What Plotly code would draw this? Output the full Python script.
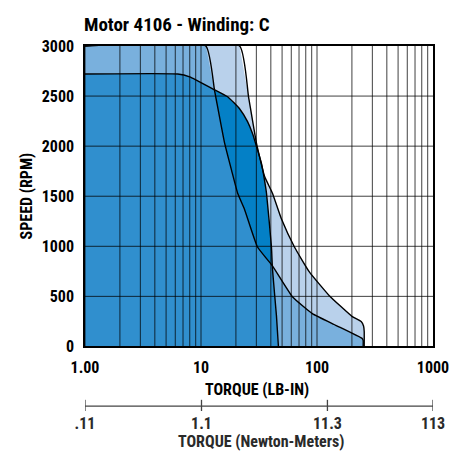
import plotly.graph_objects as go

# ---------------- data (torque lb-in, speed rpm) ----------------
outer_torque = [1, 21.5, 25.7, 30.1, 35.3, 41.3, 49.4, 63.9, 85.9, 127.7, 201.3, 240.4, 252, 255.2, 255.2]
outer_speed  = [3000, 3000, 2493, 2027, 1699, 1530, 1272, 993, 745, 507, 298, 248, 205, 149, 0]

mid_torque = [1, 11.0, 13.1, 16.0, 18.35, 20.7, 23.7, 30.7, 41.3, 61.4, 91.2, 146.7, 245.3, 250, 250]
mid_speed  = [3000, 3000, 2553, 2027, 1758, 1530, 1371, 993, 805, 497, 328, 209, 79, 60, 0]

cont_torque = [1, 6.3, 7.99, 12.6, 16.96, 21.5, 25.2, 27.8, 30.1, 33.2, 35.3, 36.7, 40.5, 41.3, 44.7, 46.5]
cont_speed  = [2720, 2720, 2692, 2573, 2493, 2374, 2245, 2126, 1997, 1828, 1659, 1530, 993, 775, 308, 0]

x_tickvals = [1, 10, 100, 1000]
x_ticktext = ["1.00", "10", "100", "1000"]
y_tickvals = [0, 500, 1000, 1500, 2000, 2500, 3000]

nm_tick_pos_lbin = [1, 10.1, 123, 1000]
nm_ticktext = [".11", "1.1", "11.3", "113"]

title_text = "Motor 4106 - Winding: C"
xtitle = "TORQUE (LB-IN)"
x2title = "TORQUE (Newton-Meters)"
ytitle = "SPEED (RPM)"

# ---------------- styling ----------------
FONT = "Roboto Condensed, Noto Sans Condensed, DejaVu Sans Condensed, sans-serif"
W, H = 461, 455
ML, MR, MT, MB = 85, 27, 46, 20
PW, PH = W - ML - MR, H - MT - MB


def px(x):
    return (x - ML) / PW


def py(y):
    return (H - MB - y) / PH


fig = go.Figure()

# fills
ox, oy = list(outer_torque) + [1], list(outer_speed) + [0]
mx, my = list(mid_torque) + [1], list(mid_speed) + [0]
cx, cy = list(cont_torque) + [1], list(cont_speed) + [0]

fig.add_trace(go.Scatter(x=ox, y=oy, fill="toself", fillcolor="rgb(185,209,235)",
                         line=dict(width=0), mode="lines", hoverinfo="skip"))
fig.add_trace(go.Scatter(x=cx, y=cy, fill="toself", fillcolor="rgb(4,128,198)",
                         line=dict(width=0), mode="lines", hoverinfo="skip"))
fig.add_trace(go.Scatter(x=mx, y=my, fill="toself", fillcolor="rgba(78,153,212,0.6)",
                         line=dict(width=0), mode="lines", hoverinfo="skip"))

# grid lines drawn on top of fills
gx, gy = [], []
for d in [1, 10, 100]:
    for m in range(1, 10):
        v = d * m
        gx += [v, v, None]
        gy += [0, 3000, None]
for h in y_tickvals[1:-1]:
    gx += [1, 1000, None]
    gy += [h, h, None]
fig.add_trace(go.Scatter(x=gx, y=gy, mode="lines", line=dict(color="rgba(0,0,0,0.75)", width=1),
                         hoverinfo="skip"))

# boundary curves
for xs, ys in [(outer_torque, outer_speed), (mid_torque, mid_speed), (cont_torque, cont_speed)]:
    fig.add_trace(go.Scatter(x=xs, y=ys, mode="lines",
                             line=dict(color="black", width=1.4, shape="spline", smoothing=0.4),
                             hoverinfo="skip"))

# secondary (Newton-Meters) scale
sx, sy = [1, 1000, None], [0, 0, None]
for t in nm_tick_pos_lbin:
    sx += [t, t, None]
    sy += [-1.0, 1.3, None]
fig.add_trace(go.Scatter(x=sx, y=sy, mode="lines", line=dict(color="#444", width=1.3),
                         xaxis="x2", yaxis="y2", hoverinfo="skip"))

tickfont = dict(family=FONT, size=16, color="black", weight="bold")

fig.update_layout(
    width=W, height=H,
    margin=dict(l=ML, r=MR, t=MT, b=MB),
    paper_bgcolor="white", plot_bgcolor="white",
    showlegend=False,
    xaxis=dict(type="log", range=[0, 3], domain=[0, 1], tickvals=x_tickvals, ticktext=x_ticktext,
               showgrid=False, zeroline=False, showline=True, mirror=True, linecolor="black", linewidth=1.5,
               ticks="", tickfont=tickfont, anchor="y", ticklabelstandoff=6),
    yaxis=dict(range=[0, 3000], domain=[py(348), 1], tickvals=y_tickvals,
               showgrid=False, zeroline=False, showline=True, mirror=True, linecolor="black", linewidth=1.5,
               ticks="", tickfont=tickfont, anchor="x", ticklabelstandoff=6),
    xaxis2=dict(type="log", range=[0, 3], domain=[0, 1], tickvals=nm_tick_pos_lbin, ticktext=nm_ticktext,
                showgrid=False, zeroline=False, showline=False, ticks="",
                tickfont=dict(family=FONT, size=16, color="#2a2a2a", weight="bold"),
                anchor="y2", ticklabelstandoff=1),
    yaxis2=dict(range=[-1, 1.4], domain=[py(413), py(401)], visible=False, anchor="x2"),
    annotations=[
        dict(text=title_text, x=px(82), y=py(24), xref="paper", yref="paper", xanchor="left", yanchor="middle",
             showarrow=False, font=dict(family=FONT, size=19, color="black", weight="bold")),
        dict(text=xtitle, x=px(257), y=py(391), xref="paper", yref="paper", xanchor="center", yanchor="middle",
             showarrow=False, font=dict(family=FONT, size=16, color="black", weight="bold")),
        dict(text=x2title, x=px(262), y=py(444), xref="paper", yref="paper", xanchor="center", yanchor="middle",
             showarrow=False, font=dict(family=FONT, size=16, color="#2a2a2a", weight="bold")),
        dict(text=ytitle, x=px(26), y=py(197), xref="paper", yref="paper", xanchor="center", yanchor="middle",
             textangle=-90, showarrow=False, font=dict(family=FONT, size=16, color="black", weight="bold")),
    ],
)

fig.write_html("out.html", post_script="document.body.style.margin='0px';",
               config={"displayModeBar": False})
